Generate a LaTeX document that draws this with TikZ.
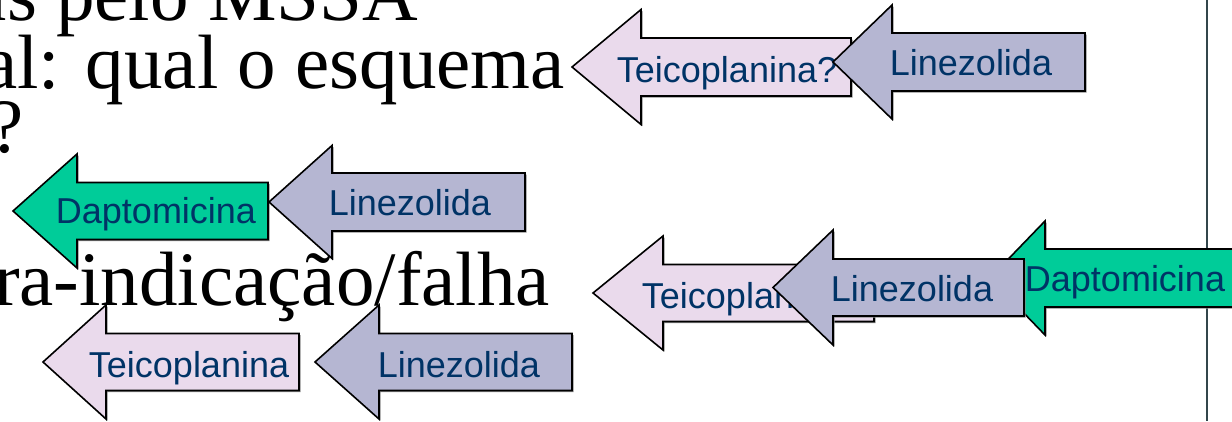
\documentclass[tikz,border=0pt]{standalone}
\usepackage{fontspec}
\setmainfont{Liberation Serif}
\newfontfamily\labelfont{Liberation Sans}

\definecolor{pinkfill}{RGB}{234,218,236}
\definecolor{bluefill}{RGB}{181,182,210}
\definecolor{greenfill}{RGB}{0,204,153}
\definecolor{labelblue}{RGB}{0,51,102}
\definecolor{rulecolor}{RGB}{50,70,75}

\tikzset{
  arrowbody/.style={draw=black, line width=1.6pt, line join=miter},
  arrowshadow/.style={fill=black!45},
  druglabel/.style={font=\labelfont\fontsize{36}{36}\selectfont, text=labelblue, inner sep=0pt, anchor=base},
  slidetext/.style={font=\fontsize{77}{77}\selectfont, text=black, inner sep=0pt, anchor=base east},
}

% left-pointing block arrow:
% #1 tip x, #2 head base x, #3 right end x, #4 centre y, #5 half head height, #6 half shaft height, #7 fill
\newcommand\blockarrow[7]{%
  \fill[arrowshadow, shift={(1.6,1.6)}]
    (#1,#4) -- (#2,#4-#5) -- (#2,#4-#6) -- (#3,#4-#6) -- (#3,#4+#6)
    -- (#2,#4+#6) -- (#2,#4+#5) -- cycle;
  \filldraw[arrowbody, fill=#7]
    (#1,#4) -- (#2,#4-#5) -- (#2,#4-#6) -- (#3,#4-#6) -- (#3,#4+#6)
    -- (#2,#4+#6) -- (#2,#4+#5) -- cycle;
}

\begin{document}
\begin{tikzpicture}[x=1pt, y=-1pt]
  \useasboundingbox (0,0) rectangle (1232,421);
  \clip (0,0) rectangle (1232,421);
  \fill[white] (0,0) rectangle (1232,421);

  % slide body text
  \node[slidetext] (line1) at (418,20) {as pelo MSSA};
  \node[slidetext] (line2) at (565,88) {al: qual o esquema};
  \node[slidetext] (line3) at (24,152) {?};
  \node[slidetext] (line4) at (550,305) {ra-indicação/falha};

  % vertical rule
  \draw[rulecolor, line width=1.5pt] (1207,0) -- (1207,421);

  % top row
  \blockarrow{572}{641}{851}{67}{57.5}{29}{pinkfill}
  \node[druglabel] (teicoA) at (727,82) {Teicoplanina?};
  \blockarrow{833}{892}{1085}{62}{57}{29}{bluefill}
  \node[druglabel] (linezB) at (971,75) {Linezolida};

  % middle row
  \blockarrow{13}{77}{268}{211}{57}{28.5}{greenfill}
  \node[druglabel] (daptoC) at (156,223) {Daptomicina};
  \blockarrow{269}{332}{525}{202}{56.5}{29}{bluefill}
  \node[druglabel] (linezD) at (410,215) {Linezolida};

  % right group of the lower row
  \blockarrow{593}{663}{874}{293}{57}{28.5}{pinkfill}
  \node[druglabel] (teicoE) at (742,308) {Teicoplanina};
  \blockarrow{990}{1045}{1260}{278}{57}{29}{greenfill}
  \node[druglabel] (daptoG) at (1125,291) {Daptomicina};
  \blockarrow{773}{833}{1024}{287.5}{57.5}{28.5}{bluefill}
  \node[druglabel] (linezF) at (912,301) {Linezolida};

  % bottom row
  \blockarrow{43}{106}{299}{362}{57}{28.5}{pinkfill}
  \node[druglabel] (teicoH) at (189,377) {Teicoplanina};
  \blockarrow{315}{379}{572}{362}{57}{28.5}{bluefill}
  \node[druglabel] (linezI) at (459,377) {Linezolida};
\end{tikzpicture}
\end{document}
